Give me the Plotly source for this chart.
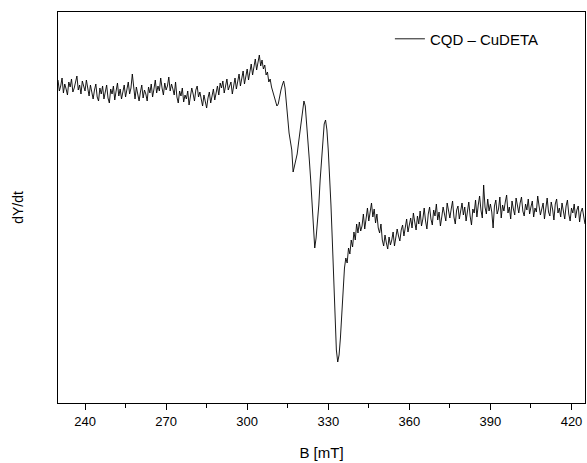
import numpy as np
import plotly.graph_objects as go

# EPR spectrum, dY/dt in arbitrary units, sampled every 0.5 mT (segment start field given)
step_mT = 0.5

seg_a_start = 230.0
seg_a = [-80, -91, -86, -78, -93, -84, -89, -95, -82, -87,
         -79, -92, -88, -83, -76, -90, -85, -94, -81, -86,
         -91, -80, -88, -96, -85, -93, -99, -90, -84, -97,
         -101, -88, -94, -86, -99, -92, -85, -98, -103, -89,
         -94, -86, -100, -91, -83, -96, -89, -99, -92, -85,
         -97, -90, -82, -94, -88, -74, -91, -99, -87, -95,
         -101]

seg_b_start = 260.5
seg_b = [-92, -85, -98, -90, -94, -101, -87, -93, -84, -97,
         -89, -80, -93, -86, -91, -78, -88, -95, -83, -90,
         -86, -77, -91, -84, -89, -95, -82, -97, -103, -91,
         -96, -88, -102, -95, -99, -91, -105, -97, -88, -94,
         -101, -90, -86, -97, -92, -99, -106, -95, -101, -108,
         -98, -92, -103, -96, -89, -100, -91, -86, -95, -83]

seg_c_start = 290.5
seg_c = [-88, -81, -93, -85, -79, -90, -86, -82, -94, -84,
         -78, -89, -83, -74, -86, -79, -71, -84, -76, -69,
         -80, -72, -64, -75, -66, -59, -70, -63, -55, -66,
         -60, -69, -65, -75, -72, -82, -79, -87, -92, -97]

seg_d_start = 310.5
seg_d = [-101, -106, -104, -96, -90, -85, -81, -88, -100, -118,
         -133, -141]

seg_e_start = 316.5
seg_e = [-150, -172, -165, -158, -154, -143, -132, -122, -110, -101,
         -106, -122, -140, -160, -180, -205, -230, -248, -238, -222,
         -205, -180, -160, -140, -124, -120, -130, -150, -175, -205,
         -240, -280, -320, -350, -362, -355, -338, -310, -285, -268,
         -258, -263, -248, -254, -240, -247, -232, -240, -224, -233]

seg_f_start = 341.5
seg_f = [-222, -231, -226, -214, -229, -218, -208, -221, -211, -203,
         -217, -209, -223, -214, -228, -233, -224, -240, -246, -235,
         -243, -249, -237, -245, -240, -232, -246, -238, -229, -236,
         -241, -230, -225, -236, -228, -219, -232, -224]

seg_g_start = 360.5
seg_g = [-218, -228, -213, -222, -230, -216, -224, -211, -226, -219,
         -208, -221, -229, -214, -207, -219, -225, -210, -216, -204,
         -220, -212, -226, -217, -207, -214, -221, -203, -212, -218,
         -209, -201, -217, -224, -210, -206, -219, -212, -203, -215,
         -207, -221, -211, -202, -216, -225, -209, -213, -200, -217,
         -205, -196, -210, -218, -185, -207, -214, -199, -211, -204]

seg_h_start = 390.5
seg_h = [-212, -228, -206, -200, -214, -209, -197, -218, -205, -211,
         -202, -195, -213, -207, -219, -201, -209, -215, -198, -206,
         -213, -203, -197, -211, -216, -204, -210, -199, -214, -207,
         -201, -217, -208, -212, -196, -206, -215, -209, -203, -219,
         -205, -198, -212, -216, -202, -209, -220, -204, -199, -213,
         -208, -217, -203, -211, -219, -206, -200, -214, -221, -208,
         -213, -204, -218, -210, -206, -222, -212, -208, -217, -224]

segments = [(seg_a_start, seg_a), (seg_b_start, seg_b), (seg_c_start, seg_c),
            (seg_d_start, seg_d), (seg_e_start, seg_e), (seg_f_start, seg_f),
            (seg_g_start, seg_g), (seg_h_start, seg_h)]

B = []
Y = []
for start, vals in segments:
    for i, v in enumerate(vals):
        B.append(start + step_mT * i)
        Y.append(v)

x_ticks = [240, 270, 300, 330, 360, 390, 420]
x_minor = [255, 285, 315, 345, 375, 405]
series_name = "CQD \u2013 CuDETA"

font_family = "Liberation Sans, Arial, sans-serif"

fig = go.Figure()
fig.add_trace(go.Scatter(x=B, y=Y, mode="lines", name=series_name,
                         line=dict(color="black", width=0.9)))

fig.update_layout(
    width=587, height=463,
    margin=dict(l=58, r=2, t=12, b=60),
    paper_bgcolor="white", plot_bgcolor="white",
    font=dict(family=font_family, color="black", size=13),
    showlegend=True,
    legend=dict(x=0.922, y=0.973, xanchor="right", yanchor="top",
                bgcolor="rgba(0,0,0,0)", font=dict(size=15, family=font_family),
                itemwidth=30),
)
fig.update_xaxes(
    range=[230, 425], tickvals=x_ticks, ticktext=[str(t) for t in x_ticks],
    ticks="outside", ticklen=6, tickwidth=1, tickcolor="black",
    minor=dict(ticks="outside", ticklen=4, tickwidth=1, tickcolor="black",
               tickvals=x_minor),
    showline=True, linecolor="black", linewidth=1, mirror=True,
    showgrid=False, zeroline=False,
    tickfont=dict(size=13),
    title=dict(text="B [mT]", font=dict(size=15), standoff=19),
)
fig.update_yaxes(
    range=[-403, -12], showticklabels=False, ticks="",
    showline=True, linecolor="black", linewidth=1, mirror=True,
    showgrid=False, zeroline=False,
    title=dict(text="dY/dt", font=dict(size=14), standoff=30),
)

fig.write_html("out.html")
